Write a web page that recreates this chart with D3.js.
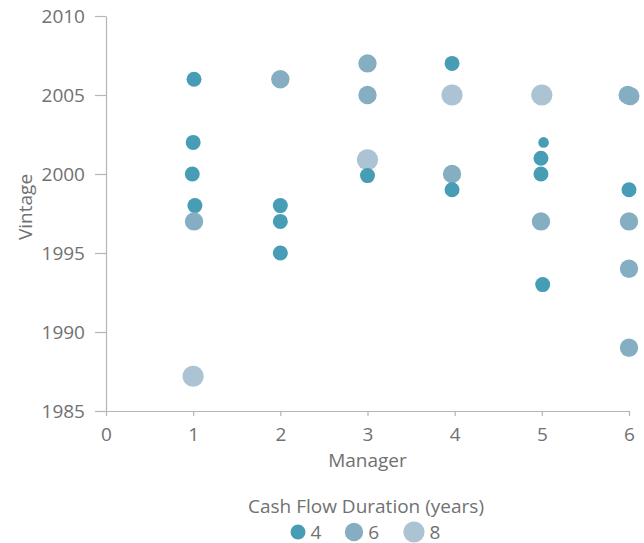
<!DOCTYPE html>
<html>
<head>
<meta charset="utf-8">
<script src="https://cdn.jsdelivr.net/npm/d3@7"></script>
<style>
  body { margin: 0; background: #fff; }
  text { font-family: "Open Sans", sans-serif; fill: #717171; }
</style>
</head>
<body>
<div id="chart"></div>
<script>
// data: one entry per fund
const manager  = [1.01, 1.0, 0.99, 1.02, 1.01, 1.0,
                  2, 2, 2, 2,
                  3, 3, 3, 3,
                  3.97, 3.97, 3.97, 3.97,
                  5, 5.02, 4.99, 4.99, 4.99, 5.01,
                  5.985, 6.015, 6, 6, 6, 6];
const vintage  = [2006, 2002, 2000, 1998, 1997, 1987.2,
                  2006, 1998, 1997, 1995,
                  2007, 2005, 2000.9, 1999.9,
                  2007, 2005, 2000, 1999,
                  2005, 2002, 2001, 2000, 1997, 1993,
                  2005, 2004.93, 1999, 1997, 1994, 1989];
const duration = [4, 4, 4, 4, 6, 8,
                  6, 4, 4, 4,
                  6, 6, 8, 4,
                  4, 8, 6, 4,
                  8, 2, 4, 4, 6, 4,
                  6, 6, 4, 6, 6, 6];

const xTicks = [0, 1, 2, 3, 4, 5, 6];
const yTicks = [1985, 1990, 1995, 2000, 2005, 2010];
const legendValues = [4, 6, 8];

const data = manager.map((m, i) => ({manager: m, vintage: vintage[i], duration: duration[i]}));

const width = 644, height = 543;

const svg = d3.select("#chart")
    .append("svg")
    .attr("width", width)
    .attr("height", height);

const x = d3.scaleLinear().domain([0, 6]).range([106, 629]);
const y = d3.scaleLinear().domain([1985, 2010]).range([411, 16]);
const r = d3.scaleSqrt().domain([0, 8]).range([0, 10.6]);
const color = d3.scaleOrdinal()
    .domain([2, 4, 6, 8])
    .range(["#479db5", "#479db5", "#86aec3", "#abc3d3"]);

// Y axis
const yAxis = svg.append("g")
    .attr("transform", `translate(${x(0)},0)`)
    .call(d3.axisLeft(y).tickValues(yTicks).tickFormat(d3.format("d"))
        .tickSizeInner(11).tickSizeOuter(0).tickPadding(10));

// X axis
const xAxis = svg.append("g")
    .attr("transform", `translate(0,${y(1985)})`)
    .call(d3.axisBottom(x).tickValues(xTicks).tickFormat(d3.format("d"))
        .tickSizeInner(5).tickSizeOuter(0).tickPadding(12));

[xAxis, yAxis].forEach(function (a) {
    a.select(".domain").attr("stroke", "#b5b5b5").attr("stroke-width", 1.2);
    a.selectAll(".tick line").attr("stroke", "#b5b5b5").attr("stroke-width", 1.2);
    a.selectAll(".tick text")
        .style("font-size", "19px")
        .style("font-family", "'Open Sans', sans-serif")
        .attr("fill", "#717171");
});

// axis titles
svg.append("text")
    .attr("text-anchor", "middle")
    .attr("x", (x(0) + x(6)) / 2)
    .attr("y", 467)
    .style("font-size", "19px")
    .text("Manager");

svg.append("text")
    .attr("text-anchor", "middle")
    .attr("transform", "translate(32,207) rotate(-90)")
    .style("font-size", "19px")
    .text("Vintage");

// dots
svg.append("g")
    .selectAll("circle")
    .data(data)
    .enter()
    .append("circle")
    .attr("cx", d => x(d.manager))
    .attr("cy", d => y(d.vintage))
    .attr("r", d => r(d.duration))
    .style("fill", d => color(d.duration));

// legend
svg.append("text")
    .attr("text-anchor", "middle")
    .attr("x", 366)
    .attr("y", 512.5)
    .style("font-size", "19px")
    .text("Cash Flow Duration (years)");

const legendX = [298, 354, 414];
const legend = svg.append("g")
    .selectAll("g")
    .data(legendValues)
    .enter()
    .append("g")
    .attr("transform", (d, i) => `translate(${legendX[i]},532)`);

legend.append("circle")
    .attr("r", d => r(d))
    .style("fill", d => color(d));

legend.append("text")
    .attr("x", d => r(d) + 5)
    .attr("y", 6.5)
    .style("font-size", "19px")
    .text(d => d);
</script>
</body>
</html>
